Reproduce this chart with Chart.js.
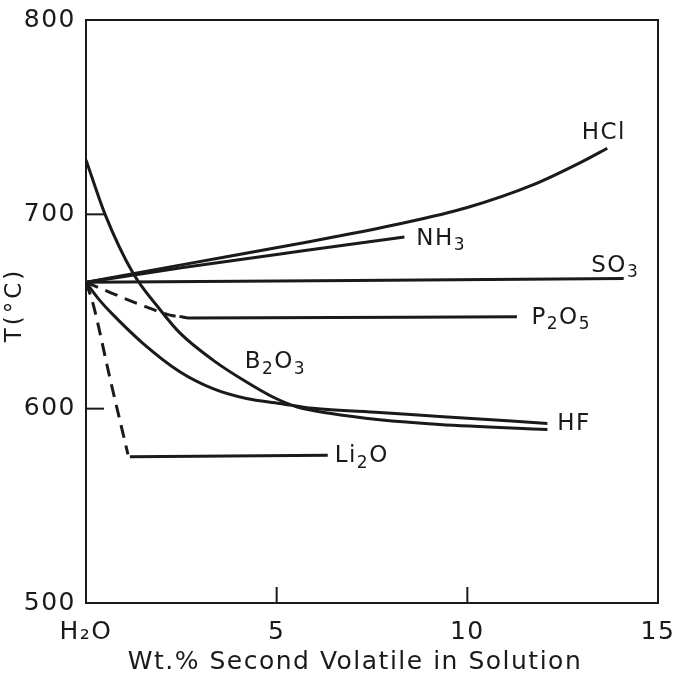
<!DOCTYPE html>
<html>
<head>
<meta charset="utf-8">
<script src="https://cdn.jsdelivr.net/npm/chart.js@4.4.1/dist/chart.umd.min.js"></script>
<style>
  body { margin: 0; background: #fff; }
</style>
</head>
<body>
<canvas id="chart" width="676" height="685"></canvas>
<script>
// x = wt.% second volatile, y = temperature (°C)
const hclX = [0, 2.5, 5.6, 8.2, 10, 11.7, 13, 13.67];
const hclY = [665, 674, 685, 695, 703.5, 715, 727, 734];

const nh3X = [0, 2.5, 5.6, 8.35];
const nh3Y = [665, 672.5, 681, 688.3];

const so3X = [0, 14.1];
const so3Y = [665, 667];

const p2o5DashX = [0, 0.67, 1.54, 2.15, 2.35];
const p2o5DashY = [665, 659.5, 652.6, 648.4, 647.6];
const p2o5X = [2.45, 2.7, 11.3];
const p2o5Y = [647.5, 646.7, 647.3];

const li2oDashX = [0, 0.18, 0.63, 1.1];
const li2oDashY = [665, 654.3, 615.5, 576.5];
const li2oX = [1.15, 6.34];
const li2oY = [575.3, 576];

const b2o3X = [0, 0.5, 1.24, 1.94, 2.46, 3.33, 4.21, 4.9, 5.52, 6.39, 7.7, 9.27, 12.1];
const b2o3Y = [728, 700, 669.5, 651, 639, 625, 613.7, 606, 601, 597.6, 594.3, 591.9, 589.3];

const hfX = [0, 0.35, 0.7, 1.5, 2.46, 3.33, 4.21, 5.08, 5.95, 7.7, 9.27, 12.1];
const hfY = [665, 656, 648.5, 633.5, 619, 610.3, 605.2, 602.7, 600.2, 598, 596, 592.4];

const xTicks = [0, 5, 10, 15];
const xTickLabels = ["H₂O", "5", "10", "15"];
const yTicks = [500, 600, 700, 800];

const xTitle = "Wt.% Second Volatile in Solution";
const yTitle = "T(°C)";

// curve names, "_" marks the next char as a subscript
const curveNames = ["HCl", "NH_3", "SO_3", "P_2O_5", "B_2O_3", "Li_2O", "HF"];
const nameX = [13.0, 8.66, 13.25, 11.68, 4.16, 6.52, 12.36];
const nameY = [742, 687.3, 673.6, 646.7, 623.9, 575.6, 591.9];

const INK = "#1a1a1a";
const FONT = "'DejaVu Sans', sans-serif";

function pts(xs, ys) {
  return xs.map((x, i) => ({ x: x, y: ys[i] }));
}

function line(xs, ys, dashed) {
  return {
    data: pts(xs, ys),
    showLine: true,
    borderColor: INK,
    borderWidth: 3,
    borderDash: dashed ? [13, 8] : [],
    pointRadius: 0,
    cubicInterpolationMode: "monotone",
    fill: false,
  };
}

// the original lettering is wide, so space it out a bit
const spacing = {
  id: "spacing",
  beforeLayout(chart) { chart.ctx.letterSpacing = "1.5px"; },
  beforeDraw(chart) { chart.ctx.letterSpacing = "1.5px"; },
};

const frame = {
  id: "frame",
  afterDraw(chart) {
    const { ctx, chartArea: a, scales } = chart;
    ctx.save();
    ctx.strokeStyle = INK;
    ctx.lineWidth = 2;
    ctx.strokeRect(a.left, a.top, a.right - a.left, a.bottom - a.top);
    // short inward ticks
    [5, 10].forEach((v) => {
      const px = scales.x.getPixelForValue(v);
      ctx.beginPath();
      ctx.moveTo(px, a.bottom);
      ctx.lineTo(px, a.bottom - 16);
      ctx.stroke();
    });
    [600, 700].forEach((v) => {
      const py = scales.y.getPixelForValue(v);
      ctx.beginPath();
      ctx.moveTo(a.left, py);
      ctx.lineTo(a.left + 18, py);
      ctx.stroke();
    });

    // axis titles (sit a little off-centre in the original)
    ctx.fillStyle = INK;
    ctx.textAlign = "center";
    ctx.textBaseline = "middle";
    ctx.font = "25px " + FONT;
    ctx.fillText(xTitle, 355, 662);
    ctx.translate(15, 305);
    ctx.rotate(-Math.PI / 2);
    ctx.letterSpacing = "3px";
    ctx.font = "23px " + FONT;
    ctx.fillText(yTitle, 0, 0);
    ctx.restore();
  },
};

const names = {
  id: "names",
  afterDraw(chart) {
    const { ctx, scales } = chart;
    ctx.save();
    ctx.fillStyle = INK;
    ctx.textBaseline = "middle";
    curveNames.forEach((name, i) => {
      let px = scales.x.getPixelForValue(nameX[i]);
      const py = scales.y.getPixelForValue(nameY[i]);
      for (let k = 0; k < name.length; k++) {
        let ch = name[k];
        let sub = false;
        if (ch === "_") {
          sub = true;
          k++;
          ch = name[k];
        }
        ctx.font = (sub ? "17px " : "23px ") + FONT;
        ctx.fillText(ch, px, sub ? py + 7 : py);
        px += ctx.measureText(ch).width;
      }
    });
    ctx.restore();
  },
};

new Chart(document.getElementById("chart"), {
  type: "scatter",
  data: {
    datasets: [
      line(hclX, hclY),
      line(nh3X, nh3Y),
      line(so3X, so3Y),
      line(p2o5DashX, p2o5DashY, true),
      line(p2o5X, p2o5Y),
      line(li2oDashX, li2oDashY, true),
      line(li2oX, li2oY),
      line(b2o3X, b2o3Y),
      line(hfX, hfY),
    ],
  },
  options: {
    responsive: false,
    animation: false,
    layout: { padding: { top: 20, right: 18, left: 0, bottom: 0 } },
    plugins: { legend: { display: false }, tooltip: { enabled: false } },
    scales: {
      x: {
        type: "linear",
        min: 0,
        max: 15,
        afterBuildTicks: (s) => { s.ticks = xTicks.map((v) => ({ value: v })); },
        ticks: {
          callback: (v) => xTickLabels[xTicks.indexOf(v)],
          font: { family: FONT, size: 25 },
          color: INK,
          padding: 14,
          maxRotation: 0,
          autoSkip: false,
        },
        grid: { display: false, drawTicks: false },
        border: { display: false },
        afterFit: (s) => {
          s.height = 82;
          s.paddingLeft = 0;
          s.paddingRight = 0;
        },
      },
      y: {
        min: 500,
        max: 800,
        afterBuildTicks: (s) => { s.ticks = yTicks.map((v) => ({ value: v })); },
        ticks: {
          font: { family: FONT, size: 25 },
          color: INK,
          padding: 10,
        },
        grid: { display: false, drawTicks: false },
        border: { display: false },
        afterFit: (s) => {
          s.width = 86;
          s.paddingTop = 0;
          s.paddingBottom = 0;
        },
      },
    },
  },
  plugins: [spacing, frame, names],
});
</script>
</body>
</html>
